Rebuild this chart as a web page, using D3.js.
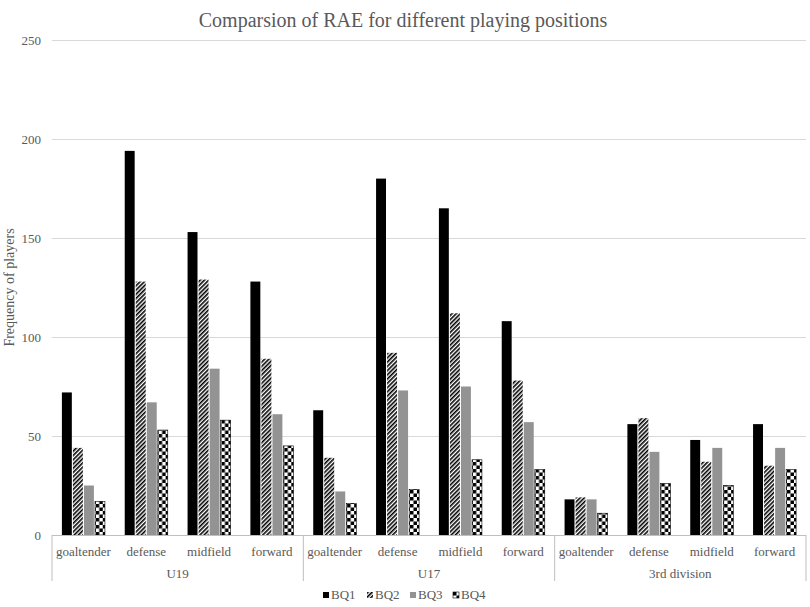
<!DOCTYPE html>
<html>
<head>
<meta charset="utf-8">
<script src="https://cdn.jsdelivr.net/npm/d3@7"></script>
<style>
  body { margin: 0; background: #fff; }
  svg text { font-family: "Liberation Serif", "Times New Roman", serif; fill: #595959; }
</style>
</head>
<body>
<div id="chart"></div>
<script>
// chart values
var divisions = ['U19', 'U17', '3rd division'];
var positions = ['goaltender', 'defense', 'midfield', 'forward'];
var seriesNames = ['BQ1', 'BQ2', 'BQ3', 'BQ4'];
var yTicks = [0, 50, 100, 150, 200, 250];

// one value per division/position, in the order U19, U17, 3rd division
var bq1 = [72, 194, 153, 128, 63, 180, 165, 108, 18, 56, 48, 56];
var bq2 = [44, 128, 129, 89, 39, 92, 112, 78, 19, 59, 37, 35];
var bq3 = [25, 67, 84, 61, 22, 73, 75, 57, 18, 42, 44, 44];
var bq4 = [17, 53, 58, 45, 16, 23, 38, 33, 11, 26, 25, 33];

var W = 810, H = 607;
// plot box (avoid the name `top`, it is window.top)
var plot = { left: 52, right: 806, top: 40, bottom: 535 };
var FONT = '"Liberation Serif", "Times New Roman", serif';

var svg = d3.select('#chart').append('svg')
    .attr('width', W)
    .attr('height', H)
    .attr('font-family', FONT);

var defs = svg.append('defs');

// BQ2: dense diagonal stripes
var hatch = defs.append('pattern')
    .attr('id', 'hatch')
    .attr('patternUnits', 'userSpaceOnUse')
    .attr('width', 3)
    .attr('height', 3)
    .attr('patternTransform', 'rotate(45)');
hatch.append('rect').attr('width', 3).attr('height', 3).attr('fill', '#fff');
hatch.append('rect').attr('width', 1.6).attr('height', 3).attr('fill', '#000');

// BQ4: checkerboard
var checker = defs.append('pattern')
    .attr('id', 'checker')
    .attr('patternUnits', 'userSpaceOnUse')
    .attr('width', 7)
    .attr('height', 7);
checker.append('rect').attr('width', 7).attr('height', 7).attr('fill', '#fff');
checker.append('rect').attr('width', 3.5).attr('height', 3.5).attr('fill', '#000');
checker.append('rect').attr('x', 3.5).attr('y', 3.5).attr('width', 3.5).attr('height', 3.5).attr('fill', '#000');

var fills = ['#000', 'url(#hatch)', '#939393', 'url(#checker)'];
var strokes = ['none', 'none', 'none', '#000'];

// build the 12 category keys and rows
var rows = [];
divisions.forEach(function (div, d) {
    positions.forEach(function (pos, p) {
        var i = d * positions.length + p;
        rows.push({
            key: div + '|' + pos,
            division: div,
            position: pos,
            values: [bq1[i], bq2[i], bq3[i], bq4[i]]
        });
    });
});

var x0 = d3.scaleBand()
    .domain(rows.map(function (r) { return r.key; }))
    .range([plot.left, plot.right])
    .paddingInner(0.28)
    .paddingOuter(0.14);

var x1 = d3.scaleBand()
    .domain(seriesNames)
    .range([0, x0.bandwidth()])
    .padding(0.1);

var y = d3.scaleLinear()
    .domain([0, 250])
    .range([plot.bottom, plot.top]);

// title
svg.append('text')
    .attr('x', 403)
    .attr('y', 27)
    .attr('text-anchor', 'middle')
    .style('font-size', '20px')
    .text('Comparsion of RAE for different playing positions');

// gridlines + tick labels
var yAxis = d3.axisLeft(y)
    .tickValues(yTicks)
    .tickSize(-(plot.right - plot.left))
    .tickPadding(11);

var ga = svg.append('g')
    .attr('transform', 'translate(' + plot.left + ',0)')
    .call(yAxis);
ga.attr('font-family', FONT);
ga.select('.domain').remove();
ga.selectAll('.tick line').attr('stroke', '#d9d9d9');
ga.selectAll('.tick line').filter(function (d) { return d === 0; }).remove();
ga.selectAll('.tick text')
    .style('font-size', '13px')
    .attr('fill', '#595959');

// y title
svg.append('text')
    .attr('transform', 'translate(14,' + ((plot.top + plot.bottom) / 2) + ') rotate(-90)')
    .attr('text-anchor', 'middle')
    .style('font-size', '14px')
    .text('Frequency of players');

// bars
var groups = svg.append('g').selectAll('g')
    .data(rows)
    .enter()
    .append('g')
    .attr('transform', function (r) { return 'translate(' + x0(r.key) + ',0)'; });

groups.selectAll('rect')
    .data(function (r) {
        return r.values.map(function (v, i) { return { name: seriesNames[i], value: v, i: i }; });
    })
    .enter()
    .append('rect')
    .attr('x', function (d) { return x1(d.name); })
    .attr('y', function (d) { return y(d.value); })
    .attr('width', x1.bandwidth())
    .attr('height', function (d) { return y(0) - y(d.value); })
    .attr('fill', function (d) { return fills[d.i]; })
    .attr('stroke', function (d) { return strokes[d.i]; })
    .attr('stroke-width', 0.6);

// category axis: baseline, box dividers, labels
var axisColor = '#bfbfbf';
svg.append('line')
    .attr('x1', plot.left).attr('x2', plot.right)
    .attr('y1', plot.bottom + 0.5).attr('y2', plot.bottom + 0.5)
    .attr('stroke', axisColor);

var step = x0.step();
var groupEdges = divisions.map(function (d, i) { return plot.left + i * positions.length * step; });
groupEdges.push(plot.right);

svg.append('g').selectAll('line')
    .data(groupEdges)
    .enter()
    .append('line')
    .attr('x1', function (d) { return d; })
    .attr('x2', function (d) { return d; })
    .attr('y1', plot.bottom)
    .attr('y2', 581)
    .attr('stroke', axisColor);

svg.append('g').selectAll('text')
    .data(rows)
    .enter()
    .append('text')
    .attr('x', function (r) { return x0(r.key) + x0.bandwidth() / 2; })
    .attr('y', 556)
    .attr('text-anchor', 'middle')
    .style('font-size', '13px')
    .text(function (r) { return r.position; });

svg.append('g').selectAll('text')
    .data(divisions)
    .enter()
    .append('text')
    .attr('x', function (d, i) { return (groupEdges[i] + groupEdges[i + 1]) / 2; })
    .attr('y', 578)
    .attr('text-anchor', 'middle')
    .style('font-size', '13px')
    .text(function (d) { return d; });

// legend
var legendX = [323, 367, 410, 453];
var legend = svg.append('g').selectAll('g')
    .data(seriesNames)
    .enter()
    .append('g')
    .attr('transform', function (d, i) { return 'translate(' + legendX[i] + ',592)'; });

legend.append('rect')
    .attr('width', 6)
    .attr('height', 6)
    .attr('fill', function (d, i) { return fills[i]; })
    .attr('stroke', function (d, i) { return strokes[i]; })
    .attr('stroke-width', 0.6);

legend.append('text')
    .attr('x', 8)
    .attr('y', 7)
    .style('font-size', '13px')
    .text(function (d) { return d; });
</script>
</body>
</html>
